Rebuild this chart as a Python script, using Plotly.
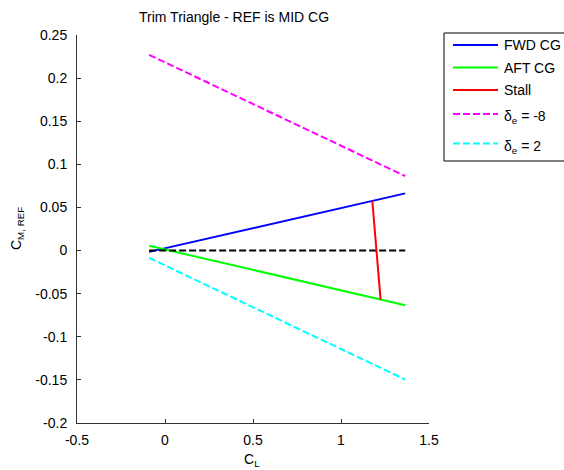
import plotly.graph_objects as go

# Lift coefficient range spanned by every line
cl = [-0.09, 1.365]

# Pitching-moment lines about the mid-CG reference
cm_fwd = [-0.0015, 0.0663]
cm_aft = [0.0055, -0.0634]
cm_zero = [0.0, 0.0]
cm_de_m8 = [0.227, 0.0863]
cm_de_p2 = [-0.0085, -0.1496]

# Stall boundary
cl_stall = [1.178, 1.225]
cm_stall = [0.0575, -0.057]

x_ticks = [-0.5, 0, 0.5, 1, 1.5]
x_ticklabels = ["-0.5", "0", "0.5", "1", "1.5"]
y_ticks = [-0.2, -0.15, -0.1, -0.05, 0, 0.05, 0.1, 0.15, 0.2, 0.25]
y_ticklabels = ["-0.2", "-0.15", "-0.1", "-0.05", "0", "0.05", "0.1", "0.15", "0.2", "0.25"]

legend_labels = ["FWD CG", "AFT CG", "Stall", "δ<sub>e</sub> = -8", "δ<sub>e</sub> = 2"]
legend_colors = ["#0000FF", "#00FF00", "#FF0000", "#FF00FF", "#00FFFF"]
legend_dashed = [False, False, False, True, True]

FONT = "Liberation Sans, Arial, sans-serif"
FS = 14
DASH = "7px,3px"

W, H = 564, 470
ML, MR, MT, MB = 77, 135, 35, 47
PW, PH = W - ML - MR, H - MT - MB


def px_x(px):
    """Pixel column -> paper x."""
    return (px - ML) / PW


def px_y(py):
    """Pixel row (from top) -> paper y."""
    return (H - MB - py) / PH


fig = go.Figure()
fig.add_trace(go.Scatter(x=cl, y=cm_fwd, mode="lines", name=legend_labels[0],
                         line=dict(color=legend_colors[0], width=2)))
fig.add_trace(go.Scatter(x=cl, y=cm_aft, mode="lines", name=legend_labels[1],
                         line=dict(color=legend_colors[1], width=2)))
fig.add_trace(go.Scatter(x=cl, y=cm_zero, mode="lines", name="Cm = 0",
                         line=dict(color="#000000", width=2, dash=DASH)))
fig.add_trace(go.Scatter(x=cl_stall, y=cm_stall, mode="lines", name=legend_labels[2],
                         line=dict(color=legend_colors[2], width=2)))
fig.add_trace(go.Scatter(x=cl, y=cm_de_m8, mode="lines", name=legend_labels[3],
                         line=dict(color=legend_colors[3], width=2, dash=DASH)))
fig.add_trace(go.Scatter(x=cl, y=cm_de_p2, mode="lines", name=legend_labels[4],
                         line=dict(color=legend_colors[4], width=2, dash=DASH)))

axis_common = dict(
    showline=True, linecolor="#333333", linewidth=1, mirror=False,
    ticks="inside", ticklen=4, tickcolor="#333333", tickwidth=1,
    showgrid=False, zeroline=False,
    tickfont=dict(family=FONT, size=FS, color="#000000"),
)

# Boxed legend to the right of the axes
shapes = [dict(type="rect", xref="paper", yref="paper",
               x0=px_x(444), x1=px_x(566), y0=px_y(161), y1=px_y(33),
               line=dict(color="#000000", width=1), fillcolor="white", layer="above")]
annotations = []
legend_rows = [45, 67.5, 90, 114, 143.5]
for label, color, dashed, row in zip(legend_labels, legend_colors, legend_dashed, legend_rows):
    shapes.append(dict(type="line", xref="paper", yref="paper",
                       x0=px_x(453), x1=px_x(498), y0=px_y(row), y1=px_y(row),
                       line=dict(color=color, width=2, dash=DASH if dashed else "solid"),
                       layer="above"))
    sub = "<sub>" in label
    annotations.append(dict(text=label, xref="paper", yref="paper",
                            x=px_x(502), y=px_y(row), xanchor="left", yanchor="middle",
                            yshift=-3 if sub else 0, showarrow=False,
                            font=dict(family=FONT, size=FS, color="#000000")))

annotations += [
    dict(text="Trim Triangle - REF is MID CG", x=px_x(234), y=px_y(17), xref="paper",
         yref="paper", xanchor="center", yanchor="middle",
         showarrow=False, font=dict(family=FONT, size=FS)),
    dict(text="C<sub>L</sub>", x=px_x(252), y=px_y(449), xref="paper", yref="paper",
         xanchor="center", yanchor="top", showarrow=False,
         font=dict(family=FONT, size=FS)),
    dict(text="C<sub>M, REF</sub>", x=px_x(17), y=px_y(229), xref="paper", yref="paper",
         xanchor="center", yanchor="middle", textangle=-90, showarrow=False,
         font=dict(family=FONT, size=FS)),
]

fig.update_layout(
    width=W, height=H,
    margin=dict(l=ML, r=MR, t=MT, b=MB, autoexpand=False),
    plot_bgcolor="white", paper_bgcolor="white",
    font=dict(family=FONT, size=FS, color="#000000"),
    xaxis=dict(range=[-0.5, 1.5], tickvals=x_ticks, ticktext=x_ticklabels,
               ticklabelstandoff=4, **axis_common),
    yaxis=dict(range=[-0.2, 0.25], tickvals=y_ticks, ticktext=y_ticklabels,
               ticklabelstandoff=6, **axis_common),
    showlegend=False,
    shapes=shapes,
    annotations=annotations,
)

fig.write_html("out.html")
